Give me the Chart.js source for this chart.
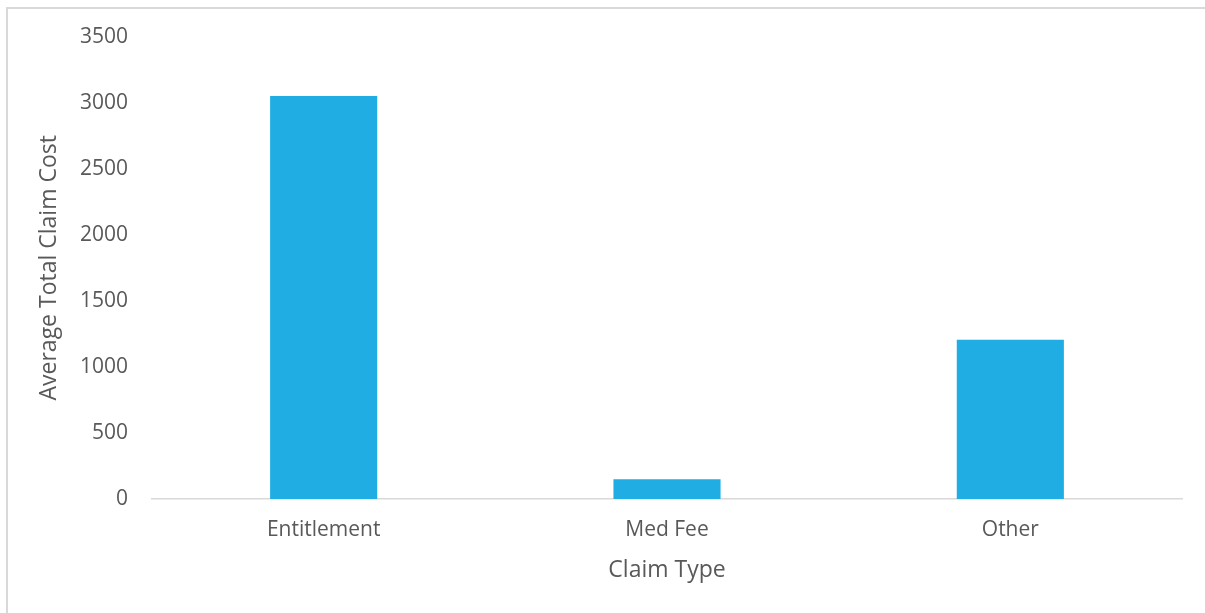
<!DOCTYPE html>
<html lang="en">
<head>
    <meta charset="UTF-8">
    <title>Average Total Claim Cost by Claim Type</title>
    <script src="https://cdn.jsdelivr.net/npm/chart.js"></script>
    <style>
        html, body {
            margin: 0;
            padding: 0;
            background: #ffffff;
            overflow: hidden;
        }
        #claimChart {
            display: block;
        }
    </style>
</head>
<body>
<canvas id="claimChart" width="1205" height="613"></canvas>

<script>
    const claimTypes = ['Entitlement', 'Med Fee', 'Other'];
    const avgClaimCost = [3050, 150, 1205];
    const yTicks = [0, 500, 1000, 1500, 2000, 2500, 3000, 3500];

    const textColor = '#595959';
    const fontFamily = '"Open Sans", "Liberation Sans", sans-serif';

    // thin frame along the top and left edges of the chart box
    const framePlugin = {
        id: 'frame',
        beforeDraw(chart) {
            const c = chart.ctx;
            c.save();
            c.strokeStyle = '#d9d9d9';
            c.lineWidth = 2;
            c.beginPath();
            c.moveTo(7, chart.height);
            c.lineTo(7, 8);
            c.lineTo(chart.width, 8);
            c.stroke();
            c.restore();
        }
    };

    const ctx = document.getElementById('claimChart').getContext('2d');
    new Chart(ctx, {
        type: 'bar',
        data: {
            labels: claimTypes,
            datasets: [{
                label: 'Average Total Claim Cost',
                data: avgClaimCost,
                backgroundColor: '#1FADE4',
                borderWidth: 0,
                barPercentage: 0.312,
                categoryPercentage: 1.0
            }]
        },
        options: {
            responsive: false,
            animation: false,
            layout: {
                padding: { top: 36, right: 23, bottom: 0, left: 0 }
            },
            plugins: {
                legend: { display: false },
                tooltip: { enabled: false }
            },
            scales: {
                x: {
                    grid: { display: false, drawTicks: false },
                    border: { display: true, color: '#d9d9d9', width: 1.5 },
                    ticks: {
                        color: textColor,
                        padding: 18,
                        font: { family: fontFamily, size: 21 }
                    },
                    title: {
                        display: true,
                        text: 'Claim Type',
                        color: textColor,
                        font: { family: fontFamily, size: 23 },
                        padding: { top: 0, bottom: 29 }
                    },
                    afterFit: scale => { scale.height = 114; }
                },
                y: {
                    min: 0,
                    max: 3500,
                    grid: { display: false, drawTicks: false },
                    border: { display: false },
                    afterBuildTicks: scale => {
                        scale.ticks = yTicks.map(v => ({ value: v }));
                    },
                    ticks: {
                        color: textColor,
                        padding: 24,
                        font: { family: fontFamily, size: 21 },
                        callback: value => String(value)
                    },
                    title: {
                        display: true,
                        text: 'Average Total Claim Cost',
                        color: textColor,
                        font: { family: fontFamily, size: 23 },
                        padding: { top: 36, bottom: 0 }
                    },
                    afterFit: scale => { scale.width = 152; }
                }
            }
        },
        plugins: [framePlugin]
    });
</script>
</body>
</html>
